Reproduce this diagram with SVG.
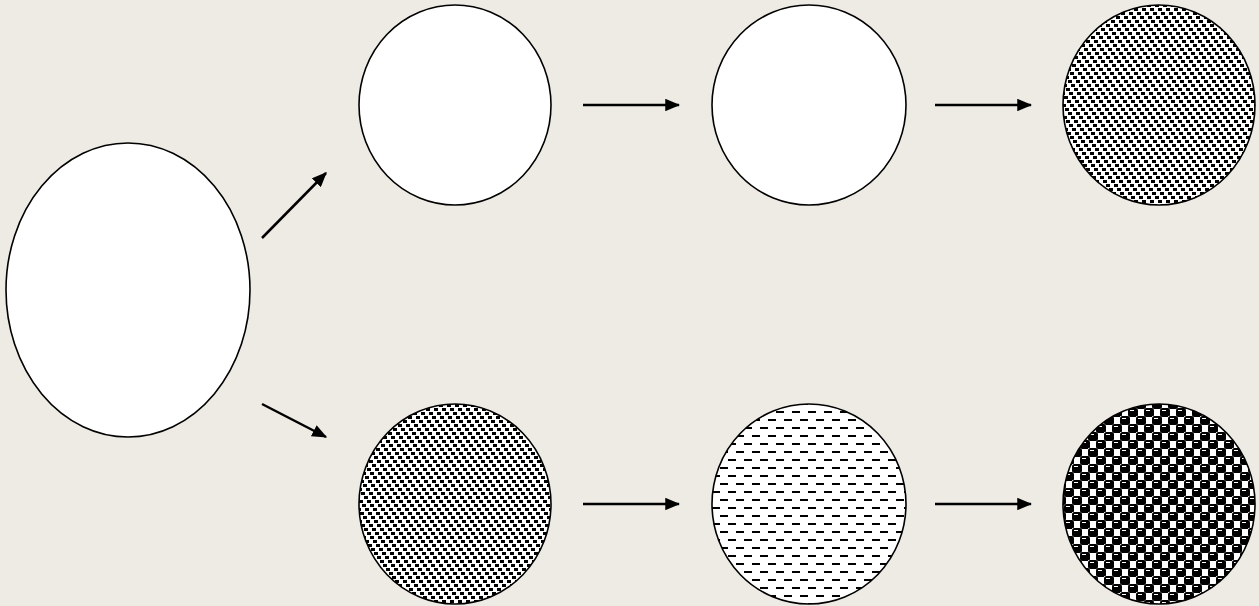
<svg xmlns="http://www.w3.org/2000/svg" width="1259" height="606" viewBox="0 0 1259 606">
<style>
.node{stroke:#000;stroke-width:1.6}
.conn{stroke:#000;stroke-width:2.5;fill:none;marker-end:url(#ah)}
.k{fill:#000}
</style>
<defs>
<marker id="ah" markerWidth="6" markerHeight="5" refX="5.5" refY="2.5" orient="auto" markerUnits="strokeWidth">
<path d="M0,0 L6,2.5 L0,5 Z" fill="#000"/>
</marker>
<pattern id="confetti" width="8" height="32" patternUnits="userSpaceOnUse">
<rect width="8" height="32" fill="#fff"/>
<rect class="k" x="0" y="0" width="4" height="3"/>
<rect class="k" x="3" y="4" width="4" height="3"/>
<rect class="k" x="6" y="8" width="4" height="3"/>
<rect class="k" x="-2" y="8" width="4" height="3"/>
<rect class="k" x="1" y="12" width="4" height="3"/>
<rect class="k" x="4" y="16" width="4" height="3"/>
<rect class="k" x="7" y="20" width="4" height="3"/>
<rect class="k" x="-1" y="20" width="4" height="3"/>
<rect class="k" x="2" y="24" width="4" height="3"/>
<rect class="k" x="5" y="28" width="4" height="3"/>
<rect class="k" x="-3" y="28" width="4" height="3"/>
</pattern>
<pattern id="dashes" width="16" height="16" patternUnits="userSpaceOnUse">
<rect width="16" height="16" fill="#fff"/>
<rect class="k" x="0" y="3" width="8" height="2"/>
<rect class="k" x="8" y="11" width="8" height="2"/>
</pattern>
<pattern id="sphere" width="16" height="16" patternUnits="userSpaceOnUse">
<rect width="16" height="16" fill="#fff"/>
<rect class="k" x="0" y="0" width="10" height="9" rx="2.5"/>
<rect class="k" x="8" y="8" width="10" height="9" rx="2.5"/>
<rect class="k" x="-8" y="8" width="10" height="9" rx="2.5"/>
<rect class="k" x="8" y="-8" width="10" height="9" rx="2.5"/>
<rect x="2" y="2" width="4" height="1" fill="#fff"/>
<rect x="10" y="10" width="4" height="1" fill="#fff"/>
</pattern>
</defs>
<rect width="1259" height="606" fill="#EEEBE4"/>
<g id="n0"><ellipse class="node" cx="128" cy="290" rx="122" ry="147" fill="#fff"/></g>
<g id="n1"><ellipse class="node" cx="455" cy="105" rx="96" ry="100" fill="#fff"/></g>
<g id="n2"><ellipse class="node" cx="809" cy="105" rx="97" ry="100" fill="#fff"/></g>
<g id="n3"><ellipse class="node" cx="1159" cy="105" rx="96" ry="100" fill="url(#confetti)"/></g>
<g id="n4"><ellipse class="node" cx="455" cy="504" rx="96" ry="100" fill="url(#confetti)"/></g>
<g id="n5"><ellipse class="node" cx="809" cy="504" rx="97" ry="100" fill="url(#dashes)"/></g>
<g id="n6"><ellipse class="node" cx="1159" cy="504" rx="96" ry="100" fill="url(#sphere)"/></g>
<g id="connectors">
<line class="conn" x1="262" y1="238" x2="326" y2="173"/>
<line class="conn" x1="262" y1="404" x2="326" y2="437"/>
<line class="conn" x1="583" y1="105" x2="679" y2="105"/>
<line class="conn" x1="935" y1="105" x2="1031" y2="105"/>
<line class="conn" x1="583" y1="504" x2="679" y2="504"/>
<line class="conn" x1="935" y1="504" x2="1031" y2="504"/>
</g>
</svg>
